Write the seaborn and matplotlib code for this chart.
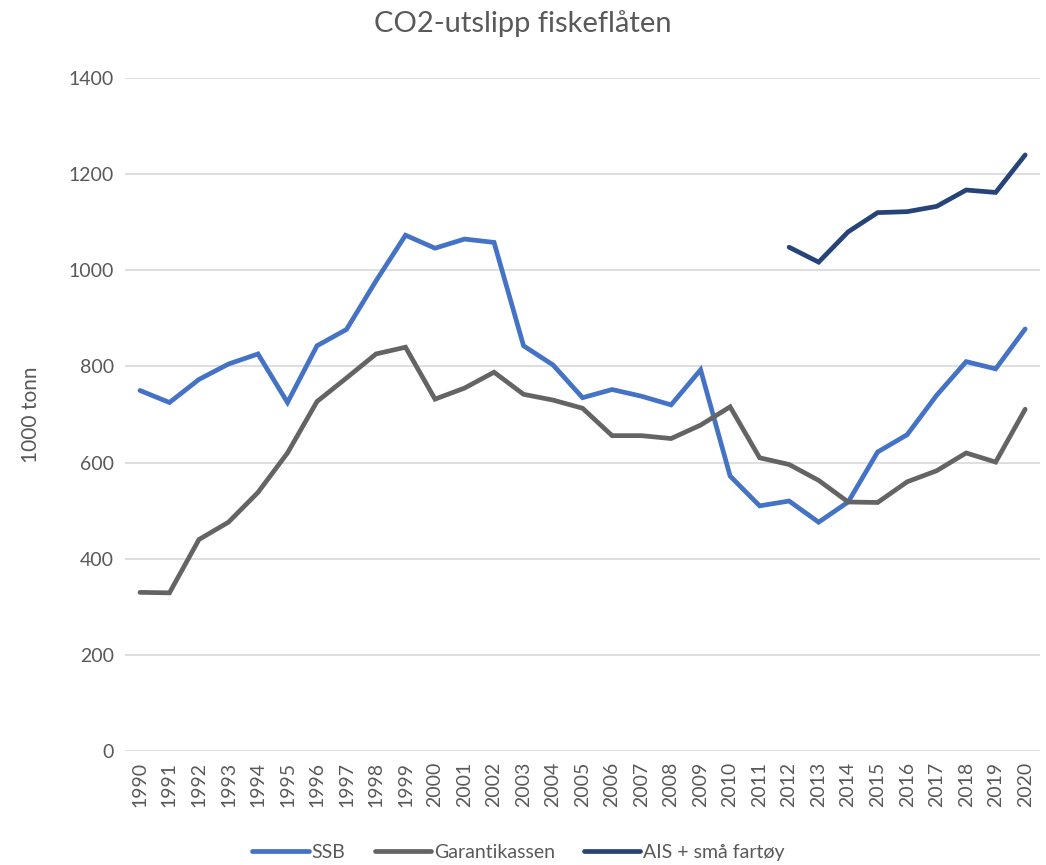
import matplotlib.pyplot as plt
import seaborn as sns
import pandas as pd

years = list(range(1990, 2021))
ssb = [750, 725, 773, 805, 826, 725, 843, 877, 978, 1073, 1046, 1065, 1058, 843, 803,
       735, 752, 738, 720, 793, 572, 510, 520, 476, 518, 622, 658, 740, 810, 795, 878]
garantikassen = [330, 329, 440, 476, 538, 620, 727, 776, 826, 840, 732, 755, 788, 742, 730,
                 713, 656, 656, 650, 678, 716, 610, 596, 563, 518, 517, 560, 583, 620, 601, 711]
ais_years = list(range(2012, 2021))
ais = [1048, 1017, 1080, 1120, 1122, 1133, 1167, 1162, 1240]

series_names = ["SSB", "Garantikassen", "AIS + små fartøy"]
colors = ["#4472C4", "#646464", "#264478"]

df = pd.concat([
    pd.DataFrame({"year": years, "value": ssb, "serie": series_names[0]}),
    pd.DataFrame({"year": years, "value": garantikassen, "serie": series_names[1]}),
    pd.DataFrame({"year": ais_years, "value": ais, "serie": series_names[2]}),
])

sns.set_theme(style="white")
plt.rcParams["font.family"] = ["Lato", "DejaVu Sans"]

fig = plt.figure(figsize=(10.46, 8.65), dpi=100)
ax = fig.add_axes([0.1197, 0.1318, 0.8745, 0.778])

sns.lineplot(data=df, x="year", y="value", hue="serie", hue_order=series_names,
             palette=colors, linewidth=3.4, ax=ax, legend=True,
             solid_capstyle="round", solid_joinstyle="miter")

ax.set_xlim(1989.5, 2020.5)
ax.set_ylim(0, 1400)
ax.set_xticks(years)
ax.set_xticklabels([str(y) for y in years], rotation=90)
ax.set_yticks(range(0, 1401, 200))
ax.yaxis.grid(True, color="#D9D9D9", linewidth=1.2)
ax.set_axisbelow(True)
for s in ["top", "right", "left", "bottom"]:
    ax.spines[s].set_visible(False)
ax.tick_params(axis="both", length=0, labelsize=14, colors="#595959", pad=8)

ax.set_xlabel("")
ax.set_ylabel("1000 tonn", fontsize=15, color="#595959", labelpad=20)
fig.suptitle("CO2-utslipp fiskeflåten", fontsize=21, color="#595959", y=0.988)

ax.legend(loc="center", bbox_to_anchor=(0.43, -0.151), ncol=3, frameon=False,
          fontsize=14, labelcolor="#595959", handlelength=2.9, handletextpad=0.15,
          columnspacing=1.5)

fig.savefig("out.png", dpi=100)
